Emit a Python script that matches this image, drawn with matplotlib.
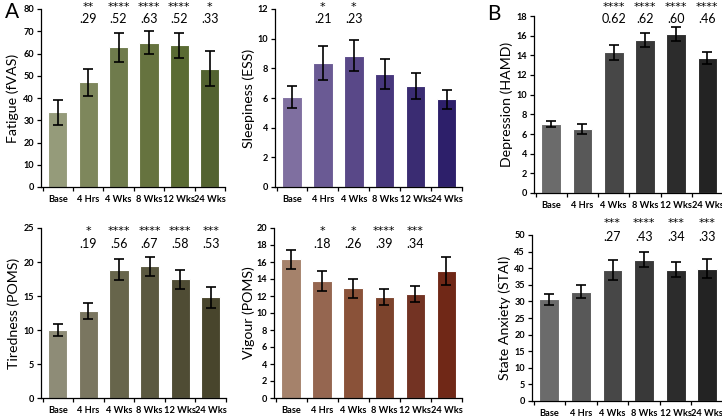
import matplotlib.pyplot as plt

plt.rcParams["font.family"] = ["Lato", "DejaVu Sans"]

cats = ["Base", "4 Hrs", "4 Wks", "8 Wks", "12 Wks", "24 Wks"]

fatigue = [33.5, 47.1, 62.9, 64.9, 63.6, 53.2]
fatigue_err = [5.6, 6.0, 6.5, 5.3, 5.8, 7.7]
fatigue_stars = ["", "**", "****", "****", "****", "*"]
fatigue_es = ["", ".29", ".52", ".63", ".52", ".33"]

sleep = [6.05, 8.35, 8.85, 7.6, 6.8, 5.9]
sleep_err = [0.75, 1.17, 1.05, 1.0, 0.9, 0.67]
sleep_stars = ["", "*", "*", "", "", ""]
sleep_es = ["", ".21", ".23", "", "", ""]

hamd = [7.05, 6.5, 14.3, 15.55, 16.15, 13.7]
hamd_err = [0.3, 0.55, 0.75, 0.7, 0.7, 0.6]
hamd_stars = ["", "", "****", "****", "****", "****"]
hamd_es = ["", "", "0.62", ".62", ".60", ".46"]

tired = [10.0, 12.8, 18.85, 19.35, 17.45, 14.8]
tired_err = [0.95, 1.2, 1.55, 1.35, 1.35, 1.5]
tired_stars = ["", "*", "****", "****", "****", "***"]
tired_es = ["", ".19", ".56", ".67", ".58", ".53"]

vigour = [16.3, 13.8, 12.9, 11.85, 12.25, 14.9]
vigour_err = [1.1, 1.2, 1.15, 0.95, 0.95, 1.65]
vigour_stars = ["", "*", "*", "****", "***", ""]
vigour_es = ["", ".18", ".26", ".39", ".34", ""]

stai = [30.6, 32.9, 39.5, 42.6, 39.6, 39.8]
stai_err = [1.7, 2.0, 3.0, 2.3, 2.2, 2.9]
stai_stars = ["", "", "***", "****", "***", "***"]
stai_es = ["", "", ".27", ".43", ".34", ".33"]

greens = ["#959b7a", "#7e875c", "#6f7b4c", "#66733f", "#5a6b33", "#536330"]
purples = ["#7f6fa0", "#6a5a94", "#594888", "#47377c", "#3a2c72", "#2d1f6a"]
olives = ["#8e8c77", "#7a7660", "#67654b", "#5b5940", "#4f4c34", "#48452c"]
browns = ["#a5826b", "#956650", "#8a5239", "#7c432c", "#733323", "#702817"]
grays = ["#6b6b6b", "#585858", "#474747", "#393939", "#2c2c2c", "#232323"]

W, H = 722, 417
fig = plt.figure(figsize=(W / 100, H / 100), dpi=100)


def panel(px_left, px_right, px_top, px_bottom, vals, errs, colors, ymax, step,
          ylabel, label_x, stars, es, es_y, star_y):
    ax = fig.add_axes([px_left / W, 1 - px_bottom / H,
                       (px_right - px_left) / W, (px_bottom - px_top) / H])
    x = range(len(cats))
    ax.bar(x, vals, width=0.63, color=colors, edgecolor="#ffffff",
           linewidth=0.8, zorder=2)
    ax.errorbar(x, vals, yerr=errs, fmt="none", ecolor="black",
                elinewidth=1.2, capsize=3.5, capthick=1.2, zorder=3)
    ax.set_xlim(-0.55, 5.5)
    ax.set_ylim(0, ymax)
    ax.set_yticks([i * step for i in range(int(round(ymax / step)) + 1)])
    ax.set_xticks([i + 0.5 for i in range(-1, 6)])
    ax.set_xticklabels([])
    ax.set_xticks(list(x), minor=True)
    ax.set_xticklabels(cats, minor=True, fontsize=6.7, fontweight="bold")
    ax.tick_params(axis="x", which="minor", length=0, pad=6)
    ax.tick_params(axis="x", which="major", length=3, width=0.9, direction="out")
    ax.tick_params(axis="y", length=3, width=0.9, labelsize=6.6, pad=2)
    for lab in ax.get_yticklabels():
        lab.set_fontweight("bold")
    for s in ["top", "right"]:
        ax.spines[s].set_visible(False)
    for s in ["left", "bottom"]:
        ax.spines[s].set_linewidth(0.9)
    ax.set_ylabel(ylabel, fontsize=10.2, va="center")
    ax.yaxis.set_label_coords((label_x - px_left) / (px_right - px_left), 0.5)
    for i in x:
        if stars[i]:
            ax.text(i, star_y, stars[i], ha="center", va="center",
                    fontsize=8, family="DejaVu Sans", clip_on=False)
        if es[i]:
            ax.text(i, es_y, es[i], ha="center", va="center",
                    fontsize=9, clip_on=False)
    return ax


panel(41, 225, 9, 187, fatigue, fatigue_err, greens, 80, 10,
      "Fatigue (fVAS)", 13, fatigue_stars, fatigue_es, 75.5, 81.0)
panel(275, 462, 9, 187, sleep, sleep_err, purples, 12, 2,
      "Sleepiness (ESS)", 249, sleep_stars, sleep_es, 11.33, 12.15)
panel(534, 723, 16, 193, hamd, hamd_err, grays, 18, 2,
      "Depression (HAMD)", 507, hamd_stars, hamd_es, 17.67, 18.95)
panel(41, 226, 228, 398, tired, tired_err, olives, 25, 5,
      "Tiredness (POMS)", 14, tired_stars, tired_es, 22.6, 24.6)
panel(274, 462, 228, 398, vigour, vigour_err, browns, 20, 2,
      "Vigour (POMS)", 249, vigour_stars, vigour_es, 18.1, 19.65)
panel(532, 723, 235, 401, stai, stai_err, grays, 50, 5,
      "State Anxiety (STAI)", 505, stai_stars, stai_es, 49.3, 53.6)

fig.text(5 / W, 1 - 12 / H, "A", fontsize=15, va="center", ha="left")
fig.text(487 / W, 1 - 14 / H, "B", fontsize=15, va="center", ha="left")

fig.savefig("out.png", dpi=100)
